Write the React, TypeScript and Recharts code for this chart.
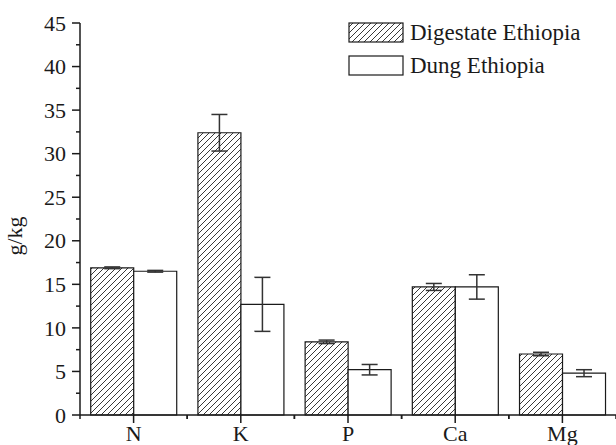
import { BarChart, Bar, XAxis, YAxis, ErrorBar } from 'recharts';

const elements = ['N', 'K', 'P', 'Ca', 'Mg'];
const digestate = [16.9, 32.4, 8.4, 14.7, 7.0];
const digestateErr = [0.1, 2.1, 0.2, 0.4, 0.2];
const dung = [16.5, 12.7, 5.2, 14.7, 4.8];
const dungErr = [0.1, 3.1, 0.6, 1.4, 0.4];
const yTicks = [0, 2.5, 5, 7.5, 10, 12.5, 15, 17.5, 20, 22.5, 25, 27.5, 30, 32.5, 35, 37.5, 40, 42.5, 45];
const seriesNames = ['Digestate Ethiopia', 'Dung Ethiopia'];

const data = elements.map((name, i) => ({
    name,
    digestate: digestate[i],
    digestateErr: digestateErr[i],
    dung: dung[i],
    dungErr: dungErr[i],
}));

const FONT = '"Liberation Serif", "Times New Roman", serif';
const INK = '#1a1a1a';

const Hatch = ({ id }: { id: string }) => (
    <pattern id={id} patternUnits="userSpaceOnUse" width="6" height="6">
        <rect width="6" height="6" fill="#fff" />
        <path d="M0,6 L6,0 M-1.5,1.5 L1.5,-1.5 M4.5,7.5 L7.5,4.5" stroke="#222" strokeWidth="0.9" />
    </pattern>
);

const YTick = (props: any) => {
    const { x, y, payload } = props;
    const v = payload.value;
    const major = v % 5 === 0;
    return (
        <g>
            <line x1={x} x2={x - (major ? 8 : 4)} y1={y} y2={y} stroke={INK} strokeWidth={1.5} />
            {major && (
                <text x={x - 14} y={y} dy="0.35em" textAnchor="end" fontFamily={FONT} fontSize={22} fill={INK}>
                    {v}
                </text>
            )}
        </g>
    );
};

const XTick = (props: any) => {
    const { x, y, payload, width, visibleTicksCount } = props;
    const half = width / visibleTicksCount / 2;
    return (
        <g>
            <line x1={x} x2={x} y1={y} y2={y + 8} stroke={INK} strokeWidth={1.5} />
            <line x1={x - half} x2={x - half} y1={y} y2={y + 4} stroke={INK} strokeWidth={1.5} />
            <line x1={x + half} x2={x + half} y1={y} y2={y + 4} stroke={INK} strokeWidth={1.5} />
            <text x={x} y={y + 26} textAnchor="middle" fontFamily={FONT} fontSize={22} fill={INK}>
                {payload.value}
            </text>
        </g>
    );
};

const LegendBox = () => (
    <div
        style={{
            position: 'absolute',
            left: 348,
            top: 22,
            fontFamily: FONT,
            fontSize: 23,
            color: INK,
            lineHeight: '21px',
        }}
    >
        <svg width="0" height="0" style={{ position: 'absolute' }}>
            <defs>
                <Hatch id="hatchLegend" />
            </defs>
        </svg>
        {seriesNames.map((label, i) => (
            <div key={label} style={{ display: 'flex', alignItems: 'center', marginTop: i ? 12 : 0 }}>
                <svg width="56" height="21" style={{ marginRight: 6 }}>
                    <rect
                        x="1"
                        y="1"
                        width="54"
                        height="19"
                        fill={i === 0 ? 'url(#hatchLegend)' : '#fff'}
                        stroke={INK}
                        strokeWidth={1.2}
                    />
                </svg>
                <span>{label}</span>
            </div>
        ))}
    </div>
);

export default function App() {
    return (
        <div style={{ position: 'absolute', left: 0, top: 0, width: 616, height: 445, background: '#fff' }}>
            <BarChart
                width={616}
                height={445}
                data={data}
                margin={{ top: 23, right: 0, left: 0, bottom: 0 }}
                barCategoryGap="10%"
                barGap={0}
            >
                <defs>
                    <Hatch id="hatchBar" />
                </defs>
                <XAxis
                    dataKey="name"
                    height={30}
                    tickLine={false}
                    tickSize={0}
                    tickMargin={0}
                    axisLine={{ stroke: INK, strokeWidth: 1.5 }}
                    tick={<XTick />}
                    interval={0}
                />
                <YAxis
                    width={80}
                    domain={[0, 45]}
                    ticks={yTicks}
                    interval={0}
                    tickLine={false}
                    tickSize={0}
                    tickMargin={0}
                    axisLine={{ stroke: INK, strokeWidth: 1.5 }}
                    tick={<YTick />}
                    label={{
                        value: 'g/kg',
                        angle: -90,
                        position: 'insideLeft',
                        offset: 0,
                        dx: 14,
                        dy: 17,
                        style: { fontFamily: FONT, fontSize: 22, fill: INK, textAnchor: 'middle' },
                    }}
                />
                <Bar dataKey="digestate" fill="url(#hatchBar)" stroke={INK} strokeWidth={1.2} isAnimationActive={false}>
                    <ErrorBar dataKey="digestateErr" width={8} stroke="#333" strokeWidth={1.5} />
                </Bar>
                <Bar dataKey="dung" fill="#fff" stroke={INK} strokeWidth={1.2} isAnimationActive={false}>
                    <ErrorBar dataKey="dungErr" width={8} stroke="#333" strokeWidth={1.5} />
                </Bar>
            </BarChart>
            <LegendBox />
        </div>
    );
}
